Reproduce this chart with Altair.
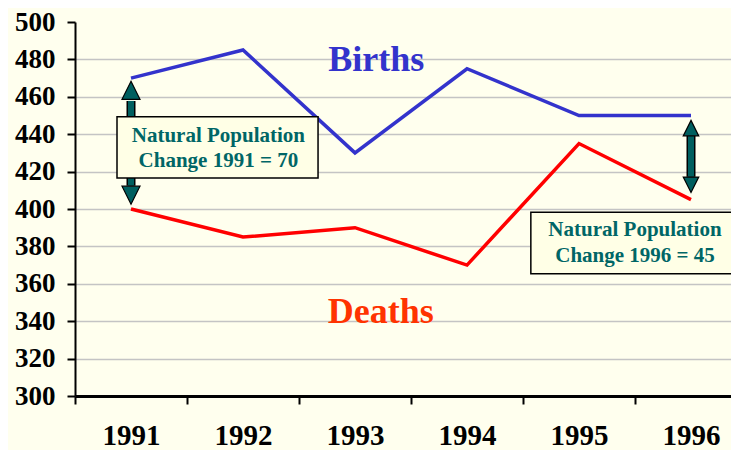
import altair as alt
import pandas as pd

# ---- data ----
years = [1991, 1992, 1993, 1994, 1995, 1996]
births = [470, 485, 430, 475, 450, 450]
deaths = [400, 385, 390, 370, 435, 405]

# series labels (position in data units)
label_text = ["Births", "Deaths"]
label_year = [1993.19, 1993.23]
label_value = [474.0, 339.0]
label_color = ["#3333CC", "#FF3300"]

# annotation arrows (data units)
arrow_year = [1991, 1996]
arrow_tip_top = [469.1, 447.2]
arrow_tip_bottom = [402.4, 408.7]
arrow_base_top = [457.8, 439.3]
arrow_base_bottom = [412.4, 417.2]
arrow_head_size = [324, 240]

# annotation boxes (data units)
box_x1 = [1990.875, 1994.57]
box_x2 = [1992.67, 1996.8]
box_y1 = [449.3, 398.2]
box_y2 = [416.6, 365.4]
box_line1 = ["Natural Population", "Natural Population"]
box_line2 = ["Change 1991 = 70", "Change 1996 = 45"]
box_text_x = [1991.78, 1995.5]
box_text_y1 = [439.3, 388.9]
box_text_y2 = [425.6, 375.0]

x_ticks = [1990.5, 1991.5, 1992.5, 1993.5, 1994.5, 1995.5]
y_ticks = list(range(300, 501, 20))

SERIF = "Liberation Serif"
TEAL = "#006666"
BG = "#FFFFEE"

# ---- tables ----
lines_df = pd.DataFrame({
    "year": years * 2,
    "value": births + deaths,
    "series": ["Births"] * len(years) + ["Deaths"] * len(years),
})
labels_df = pd.DataFrame({"text": label_text, "year": label_year,
                          "value": label_value, "color": label_color})
arrows_df = pd.DataFrame({
    "year": arrow_year, "tt": arrow_tip_top, "tb": arrow_tip_bottom,
    "bt": arrow_base_top, "bb": arrow_base_bottom, "size": arrow_head_size,
})
arrows_df["ht"] = (arrows_df["tt"] + arrows_df["bt"]) / 2
arrows_df["hb"] = (arrows_df["tb"] + arrows_df["bb"]) / 2
boxes_df = pd.DataFrame({
    "x1": box_x1, "x2": box_x2, "y1": box_y1, "y2": box_y2,
    "l1": box_line1, "l2": box_line2, "tx": box_text_x,
    "ty1": box_text_y1, "ty2": box_text_y2,
})

xscale = alt.Scale(domain=[1990.5, 1990.5 + 656 / 112], nice=False, zero=False)
yscale = alt.Scale(domain=[300, 500], nice=False, zero=False)

xaxis = alt.Axis(
    values=x_ticks, title=None, grid=False,
    labelExpr="'' + (datum.value + 0.5)", labelOffset=56,
    labelFont=SERIF, labelFontSize=29, labelFontWeight="bold", labelColor="black",
    labelPadding=17, tickSize=8, tickWidth=2, tickColor="black",
    domainColor="black", domainWidth=3, labelFlush=False, labelOverlap=False,
)
yaxis = alt.Axis(
    values=y_ticks, title=None, grid=True, gridColor="#C4C4C4", gridWidth=1.5,
    gridOpacity={"condition": {"test": "datum.value >= 500", "value": 0}, "value": 1},
    labelFont=SERIF, labelFontSize=27, labelFontWeight="bold", labelColor="black",
    labelPadding=12, tickSize=8, tickWidth=2, tickColor="black",
    domainColor="black", domainWidth=2, labelFlush=False, labelOverlap=False,
)

X = lambda f: alt.X(f, scale=xscale, axis=xaxis, title=None)
Y = lambda f: alt.Y(f, scale=yscale, axis=yaxis, title=None)

base_lines = alt.Chart(lines_df).mark_line(strokeWidth=3.5).encode(
    x=X("year:Q"),
    y=Y("value:Q"),
    color=alt.Color("series:N", scale=alt.Scale(domain=["Births", "Deaths"],
                                                range=["#3333CC", "#FF0000"]),
                    legend=None),
)

labels = alt.Chart(labels_df).mark_text(
    font=SERIF, fontSize=36, fontWeight="bold", baseline="alphabetic", align="center"
).encode(x=X("year:Q"), y=Y("value:Q"), text="text:N",
         color=alt.Color("color:N", scale=None))

shaft_outline = alt.Chart(arrows_df).mark_rule(strokeWidth=9, color="black").encode(
    x=X("year:Q"), y=Y("bt:Q"), y2="bb:Q")
shaft_fill = alt.Chart(arrows_df).mark_rule(strokeWidth=6, color="#005F5F").encode(
    x=X("year:Q"), y=Y("bt:Q"), y2="bb:Q")
head_up = alt.Chart(arrows_df).mark_point(
    shape="M0,-1L1,1L-1,1Z", filled=True, fill="#005F5F", stroke="black",
    strokeWidth=1.2, opacity=1
).encode(x=X("year:Q"), y=Y("ht:Q"), size=alt.Size("size:Q", scale=None))
head_down = alt.Chart(arrows_df).mark_point(
    shape="M0,1L1,-1L-1,-1Z", filled=True, fill="#005F5F", stroke="black",
    strokeWidth=1.2, opacity=1
).encode(x=X("year:Q"), y=Y("hb:Q"), size=alt.Size("size:Q", scale=None))

box_shadow = alt.Chart(boxes_df).mark_rect(
    color="#555555", xOffset=2, yOffset=2, clip=True
).encode(x=X("x1:Q"), x2="x2:Q", y=Y("y1:Q"), y2="y2:Q")
box = alt.Chart(boxes_df).mark_rect(
    fill="#FFFFE6", stroke="black", strokeWidth=1.5, clip=True
).encode(x=X("x1:Q"), x2="x2:Q", y=Y("y1:Q"), y2="y2:Q")
box_t1 = alt.Chart(boxes_df).mark_text(
    font=SERIF, fontSize=21, fontWeight="bold", color=TEAL, baseline="middle"
).encode(x=X("tx:Q"), y=Y("ty1:Q"), text="l1:N")
box_t2 = alt.Chart(boxes_df).mark_text(
    font=SERIF, fontSize=21, fontWeight="bold", color=TEAL, baseline="middle"
).encode(x=X("tx:Q"), y=Y("ty2:Q"), text="l2:N")

chart = alt.layer(
    base_lines, labels, shaft_outline, shaft_fill, head_up, head_down,
    box_shadow, box, box_t1, box_t2,
).properties(
    width=656, height=374,
    autosize=alt.AutoSizeParams(type="none"),
    padding={"left": 67, "top": 14, "right": 0, "bottom": 54},
    background=BG,
).configure_view(stroke=None, fill=BG)

chart.save("out.html", embed_options={"renderer": "svg", "actions": False})
